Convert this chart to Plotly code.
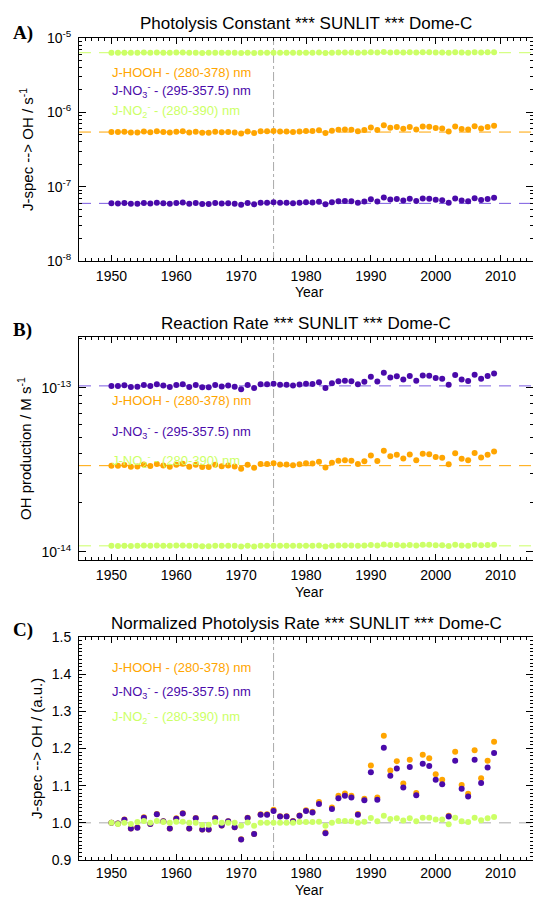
import plotly.graph_objects as go

# ---------------- data ----------------
years = list(range(1950, 2010))

# normalized photolysis rate (panel C), a.u.
norm_hooh = [1.000, 0.998, 1.009, 0.985, 0.988, 1.015, 0.997, 1.024, 1.004, 0.985,
             1.012, 1.026, 0.985, 1.013, 0.982, 0.982, 1.013, 0.993, 1.004, 0.988,
             0.956, 1.014, 0.970, 1.023, 1.023, 1.035, 1.018, 1.018, 1.005, 1.020,
             1.034, 1.030, 1.056, 0.974, 1.041, 1.073, 1.079, 1.073, 1.024, 1.065,
             1.154, 1.068, 1.234, 1.141, 1.166, 1.106, 1.170, 1.080, 1.183, 1.174,
             1.131, 1.116, 1.019, 1.191, 1.102, 1.078, 1.195, 1.120, 1.167, 1.218]
norm_no3 = [1.000, 0.998, 1.008, 0.985, 0.987, 1.014, 0.997, 1.023, 1.004, 0.985,
            1.011, 1.025, 0.985, 1.012, 0.982, 0.982, 1.012, 0.993, 1.004, 0.988,
            0.955, 1.013, 0.970, 1.022, 1.022, 1.032, 1.017, 1.017, 1.004, 1.019,
            1.032, 1.028, 1.051, 0.972, 1.037, 1.066, 1.073, 1.068, 1.022, 1.061,
            1.136, 1.062, 1.202, 1.127, 1.146, 1.095, 1.150, 1.074, 1.159, 1.153,
            1.116, 1.104, 1.017, 1.167, 1.092, 1.071, 1.170, 1.107, 1.149, 1.188]
norm_no2 = [1.000, 0.997, 1.000, 0.997, 1.002, 1.005, 1.000, 1.005, 1.002, 1.000,
            1.003, 1.003, 1.000, 1.000, 0.994, 0.995, 1.002, 1.000, 1.000, 1.000,
            0.992, 1.001, 0.992, 1.000, 1.000, 1.000, 1.000, 1.000, 1.000, 1.002,
            1.002, 1.002, 1.003, 0.992, 1.000, 1.005, 1.005, 1.004, 1.000, 1.003,
            1.013, 1.004, 1.019, 1.010, 1.012, 1.006, 1.012, 1.004, 1.014, 1.014,
            1.009, 1.009, 0.996, 1.014, 1.004, 1.002, 1.014, 1.007, 1.012, 1.016]

# reference (1950) levels: photolysis constants (s-1) and reaction rates (M s-1)
J0_HOOH, J0_NO3, J0_NO2 = 5.43e-7, 5.96e-8, 6.34e-6
R0_HOOH, R0_NO3, R0_NO2 = 3.36e-14, 1.03e-13, 1.09e-14

jA_hooh = [J0_HOOH * v for v in norm_hooh]
jA_no3 = [J0_NO3 * v for v in norm_no3]
jA_no2 = [J0_NO2 * v for v in norm_no2]
rB_hooh = [R0_HOOH * v for v in norm_hooh]
rB_no3 = [R0_NO3 * v for v in norm_no3]
rB_no2 = [R0_NO2 * v for v in norm_no2]

labels = ["J-HOOH - (280-378) nm",
          "J-NO<sub>3</sub><sup>-</sup> - (295-357.5) nm",
          "J-NO<sub>2</sub><sup>-</sup> - (280-390) nm"]

# ---------------- styling ----------------
C_OR, C_PU, C_GR = "#FFA500", "#4A0AAA", "#CCFF66"
C_PU_D = "#7A5AE0"
FONT = "Liberation Sans, Arial, sans-serif"
W, H = 533, 897
L, R, T, B = 79, 0, 38, 37
PW, PH = W - L - R, H - T - B


def px_x(x):
    return (x - L) / PW


def px_y(y):
    return 1 - (y - T) / PH


def dom(top, bottom):
    return [px_y(bottom), px_y(top)]


fig = go.Figure()

panels = [
    dict(xa="x", ya="y", data=(jA_hooh, jA_no3, jA_no2), base=(J0_HOOH, J0_NO3, J0_NO2)),
    dict(xa="x2", ya="y2", data=(rB_hooh, rB_no3, rB_no2), base=(R0_HOOH, R0_NO3, R0_NO2)),
    dict(xa="x3", ya="y3", data=(norm_hooh, norm_no3, norm_no2), base=None),
]

for p in panels:
    if p["base"] is not None:
        for b, col in zip(p["base"], (C_OR, C_PU_D, C_GR)):
            fig.add_trace(go.Scatter(x=[1945, 2015], y=[b, b], mode="lines",
                                     line=dict(color=col, width=1, dash="12px,8px"),
                                     xaxis=p["xa"], yaxis=p["ya"], showlegend=False,
                                     hoverinfo="skip"))
    else:
        fig.add_trace(go.Scatter(x=[1945, 2015], y=[1.0, 1.0], mode="lines",
                                 line=dict(color="#aaaaaa", width=1, dash="12px,8px"),
                                 xaxis=p["xa"], yaxis=p["ya"], showlegend=False,
                                 hoverinfo="skip"))
    for vals, col in zip(p["data"], (C_OR, C_PU, C_GR)):
        fig.add_trace(go.Scatter(x=years, y=vals, mode="markers",
                                 marker=dict(color=col, size=6, line=dict(width=0)),
                                 xaxis=p["xa"], yaxis=p["ya"], showlegend=False))

# vertical 1975 reference line
for xa, ya in (("x", "y"), ("x2", "y2"), ("x3", "y3")):
    fig.add_shape(type="line", xref=xa, yref=ya + " domain", x0=1975, x1=1975, y0=0, y1=1,
                  line=dict(color="#aaaaaa", width=1, dash="dashdot"), layer="below")

xcommon = dict(range=[1945, 2015], tickmode="array", tickvals=list(range(1950, 2011, 10)),
               ticks="inside", ticklen=6, tickcolor="black", showline=True, linecolor="black",
               linewidth=1, mirror="allticks", showgrid=False, zeroline=False,
               tickfont=dict(size=14, color="black", family=FONT),
               minor=dict(ticks="inside", ticklen=3, dtick=1, tick0=1945, tickcolor="black",
                          showgrid=False))


def sup(e):
    return "10<sup>%d</sup>" % e


def logminor(e0, e1):
    return [k * 10.0 ** e for e in range(e0, e1) for k in range(2, 10)]


ycommon = dict(ticks="inside", ticklen=7, tickcolor="black", showline=True, linecolor="black",
               linewidth=1, mirror="allticks", showgrid=False, zeroline=False,
               tickfont=dict(size=14, color="black", family=FONT), ticklabelstandoff=4)

fig.update_layout(
    width=W, height=H, margin=dict(l=L, r=R, t=T, b=B),
    paper_bgcolor="white", plot_bgcolor="white",
    font=dict(family=FONT, color="black"),
    xaxis=dict(domain=[0, 1], anchor="y", ticklabelstandoff=2, **xcommon),
    xaxis2=dict(domain=[0, 1], anchor="y2", ticklabelstandoff=2, **xcommon),
    xaxis3=dict(domain=[0, 1], anchor="y3", ticklabelstandoff=0, **xcommon),
    yaxis=dict(domain=dom(38, 261), anchor="x", type="log", range=[-8, -5],
               tickmode="array", tickvals=[1e-8, 1e-7, 1e-6, 1e-5],
               ticktext=[sup(-8), sup(-7), sup(-6), sup(-5)],
               minor=dict(ticks="inside", ticklen=3, tickcolor="black",
                          tickvals=logminor(-8, -5), showgrid=False),
               **ycommon),
    yaxis2=dict(domain=dom(337, 560), anchor="x2", type="log", range=[-14.049, -12.689],
                tickmode="array", tickvals=[1e-14, 1e-13], ticktext=[sup(-14), sup(-13)],
                minor=dict(ticks="inside", ticklen=3, tickcolor="black",
                           tickvals=logminor(-15, -12), showgrid=False),
                **ycommon),
    yaxis3=dict(domain=dom(637, 860), anchor="x3", range=[0.9, 1.5],
                tickmode="array", tickvals=[0.9, 1.0, 1.1, 1.2, 1.3, 1.4, 1.5],
                ticktext=["0.9", "1.0", "1.1", "1.2", "1.3", "1.4", "1.5"],
                minor=dict(ticks="inside", ticklen=3, tickcolor="black", dtick=0.01,
                           tick0=0.9, showgrid=False),
                **ycommon),
)

ann = []
titles = ["Photolysis Constant *** SUNLIT *** Dome-C",
          "Reaction Rate *** SUNLIT *** Dome-C",
          "Normalized Photolysis Rate *** SUNLIT *** Dome-C"]
title_y = [23, 323, 623]
tags = ["A)", "B)", "C)"]
tag_y = [33, 330, 630]
ytitles = ["J-spec --> OH / s<sup>-1</sup>", "OH production / M s<sup>-1</sup>",
           "J-spec --> OH / (a.u.)"]
ytitle_x = [26, 24, 36]
ytitle_c = [150, 449, 749]
year_y = [292, 592, 890]
leg_y = [(72.7, 91.3, 110.7), (400.7, 432, 461), (667, 692, 717)]

for i in range(3):
    ann.append(dict(text=titles[i], x=px_x(306), y=px_y(title_y[i]), xref="paper", yref="paper",
                    xanchor="center", yanchor="middle", showarrow=False,
                    font=dict(size=17, color="black", family=FONT)))
    ann.append(dict(text="<b>%s</b>" % tags[i], x=px_x(11), y=px_y(tag_y[i]), xref="paper",
                    yref="paper", xanchor="left", yanchor="middle", showarrow=False,
                    font=dict(size=19, color="black", family="Liberation Serif, Times New Roman, serif")))
    ann.append(dict(text=ytitles[i], x=px_x(ytitle_x[i]), y=px_y(ytitle_c[i]), xref="paper",
                    yref="paper", xanchor="center", yanchor="middle", textangle=-90,
                    showarrow=False, font=dict(size=15, color="black", family=FONT)))
    ann.append(dict(text="Year", x=px_x(309), y=px_y(year_y[i]), xref="paper", yref="paper",
                    xanchor="center", yanchor="middle", showarrow=False,
                    font=dict(size=14, color="black", family=FONT)))
    for lab, yy, col in zip(labels, leg_y[i], (C_OR, C_PU, C_GR)):
        ann.append(dict(text=lab, x=px_x(110), y=px_y(yy), xref="paper", yref="paper",
                        xanchor="left", yanchor="middle", showarrow=False,
                        font=dict(size=13, color=col, family=FONT)))

fig.update_layout(annotations=ann)

fig.write_html("out.html")
